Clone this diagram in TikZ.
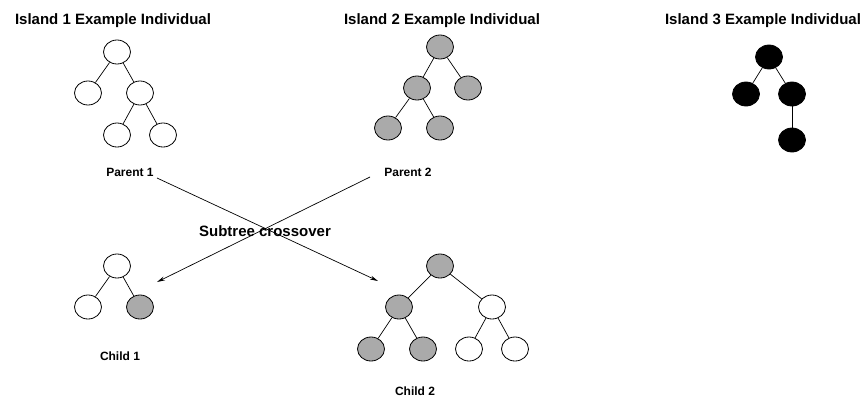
\documentclass[tikz,border=0pt]{standalone}
\usepackage{fontspec}
\setmainfont{Liberation Sans}
\usetikzlibrary{shapes.geometric,arrows.meta}
\definecolor{treegray}{RGB}{170,170,170}
\tikzset{
  tn/.style={draw=black, line width=0.8pt, ellipse, minimum width=27pt, minimum height=24pt, inner sep=0pt, fill=white},
  gn/.style={tn, fill=treegray},
  bn/.style={tn, fill=black},
  tedge/.style={draw=black, line width=0.7pt},
  title/.style={font=\bfseries\fontsize{15}{18}\selectfont, inner sep=0pt},
  lbl/.style={font=\bfseries\fontsize{12}{14}\selectfont, inner sep=0pt},
  xarrow/.style={draw=black, line width=0.7pt, -{Stealth[length=8pt,width=4pt]}}
}
\begin{document}
\begin{tikzpicture}[x=1pt,y=-1pt]
\useasboundingbox (0,0) rectangle (866,397);
% titles
\node[title] (t1) at (113,21) {Island 1 Example Individual};
\node[title] (t2) at (442,21) {Island 2 Example Individual};
\node[title] (t3) at (763,21) {Island 3 Example Individual};
% tree 1
\node[tn] (a0) at (117,52) {};
\node[tn] (a1) at (88,93) {};
\node[tn] (a2) at (140,93) {};
\node[tn] (a3) at (117,135) {};
\node[tn] (a4) at (163,135) {};
\draw[tedge] (a0) -- (a1); \draw[tedge] (a0) -- (a2);
\draw[tedge] (a2) -- (a3); \draw[tedge] (a2) -- (a4);
% tree 2
\node[gn] (b0) at (440,47) {};
\node[gn] (b1) at (417,88) {};
\node[gn] (b2) at (468,88) {};
\node[gn] (b3) at (388,128) {};
\node[gn] (b4) at (440,128) {};
\draw[tedge] (b0) -- (b1); \draw[tedge] (b0) -- (b2);
\draw[tedge] (b1) -- (b3); \draw[tedge] (b1) -- (b4);
% tree 3
\node[bn] (c0) at (769,57) {};
\node[bn] (c1) at (746,94) {};
\node[bn] (c2) at (792,94) {};
\node[bn] (c3) at (792,140) {};
\draw[tedge] (c0) -- (c1); \draw[tedge] (c0) -- (c2);
\draw[tedge] (c2) -- (c3);
% labels
\node[lbl] (p1) at (130,172) {Parent 1};
\node[lbl] (p2) at (408,172) {Parent 2};
\node[lbl] (ch1) at (120,356) {Child 1};
\node[lbl] (ch2) at (415,391) {Child 2};
% child 1 tree
\node[tn] (d0) at (117,266) {};
\node[tn] (d1) at (88,307) {};
\node[gn] (d2) at (140,307) {};
\draw[tedge] (d0) -- (d1); \draw[tedge] (d0) -- (d2);
% child 2 tree
\node[gn] (e0) at (440,266) {};
\node[gn] (e1) at (399,307) {};
\node[tn] (e2) at (492,307) {};
\node[gn] (e3) at (371,349) {};
\node[gn] (e4) at (423,349) {};
\node[tn] (e5) at (469,349) {};
\node[tn] (e6) at (515,349) {};
\draw[tedge] (e0) -- (e1); \draw[tedge] (e0) -- (e2);
\draw[tedge] (e1) -- (e3); \draw[tedge] (e1) -- (e4);
\draw[tedge] (e2) -- (e5); \draw[tedge] (e2) -- (e6);
% crossover arrows
\coordinate (s1) at (157,178);
\coordinate (f1) at (378,281);
\coordinate (s2) at (370,177);
\coordinate (f2) at (157,282);
\draw[xarrow] (s1) -- (f1);
\draw[xarrow] (s2) -- (f2);
\node[title] (sx) at (265,231) {Subtree crossover};
\end{tikzpicture}
\end{document}
